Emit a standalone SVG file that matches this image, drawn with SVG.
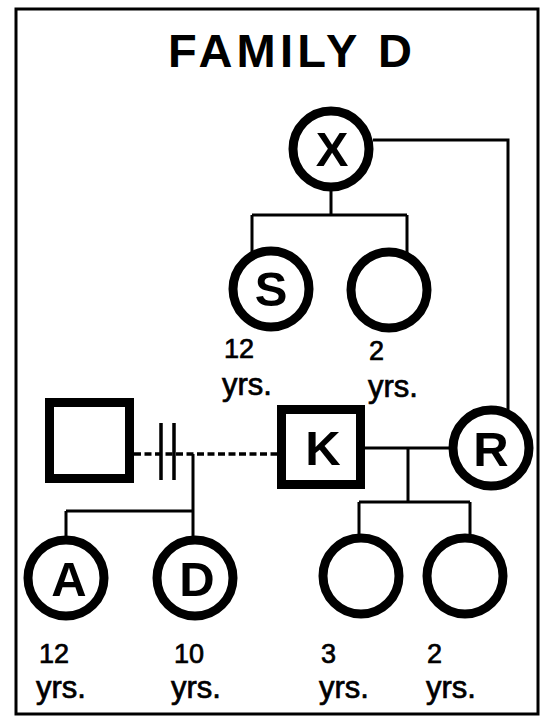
<svg xmlns="http://www.w3.org/2000/svg" width="541" height="716" viewBox="0 0 541 716">
  <style>
    .frame { fill: none; stroke: #000; stroke-width: 3; }
    .person { fill: #fff; stroke: #000; stroke-width: 9; }
    .male { fill: #fff; stroke: #000; stroke-width: 9; }
    .line { fill: none; stroke: #000; stroke-width: 3; }
    .dash { fill: none; stroke: #000; stroke-width: 3.5; stroke-dasharray: 7 3.5; }
    .bar { fill: none; stroke: #000; stroke-width: 3.5; }
    .title { font-family: "Liberation Sans", Arial, Helvetica, sans-serif; font-weight: bold; font-size: 47px; fill: #000; }
    .initial { font-family: "Liberation Sans", Arial, Helvetica, sans-serif; font-weight: bold; font-size: 49px; fill: #000; text-anchor: middle; }
    .age { font-family: "Liberation Sans", Arial, Helvetica, sans-serif; font-size: 27px; fill: #000; stroke: #000; stroke-width: 0.7; }
    .yrs { font-family: "Liberation Sans", Arial, Helvetica, sans-serif; font-size: 31px; fill: #000; stroke: #000; stroke-width: 0.7; }
  </style>

  <rect class="frame" x="16" y="9" width="522" height="705"/>
  <text class="title" x="168" y="67" textLength="244" lengthAdjust="spacing">FAMILY D</text>

  <g id="connectors">
    <path class="line" d="M373,140 H508 V411"/>
    <path class="line" d="M331,190 V215 M252,215 H407 M252,215 V254 M407,215 V253"/>
    <path class="dash" d="M134,454 H277"/>
    <path class="bar" d="M161,423 V480 M174,423 V480"/>
    <path class="line" d="M193,454 V537 M66,511 H193 M66,511 V538"/>
    <path class="line" d="M365,448 H451 M408,448 V502 M359,502 H470 M359,502 V535 M470,502 V535"/>
  </g>

  <g id="node-X">
    <circle class="person" cx="331" cy="149" r="38"/>
    <text class="initial" x="332" y="166">X</text>
  </g>
  <g id="node-S">
    <circle class="person" cx="271" cy="289" r="38"/>
    <text class="initial" x="271" y="306">S</text>
    <text class="age" x="224" y="358">12</text>
    <text class="yrs" x="222" y="395">yrs.</text>
  </g>
  <g id="node-sister2">
    <circle class="person" cx="389" cy="290" r="38"/>
    <text class="age" x="369" y="360">2</text>
    <text class="yrs" x="368" y="397">yrs.</text>
  </g>
  <g id="node-father">
    <rect class="male" x="49.5" y="402.5" width="80" height="76"/>
  </g>
  <g id="node-K">
    <rect class="male" x="281.5" y="409.5" width="79" height="75"/>
    <text class="initial" x="323" y="465">K</text>
  </g>
  <g id="node-R">
    <circle class="person" cx="491" cy="448" r="38"/>
    <text class="initial" x="491" y="466">R</text>
  </g>
  <g id="node-A">
    <circle class="person" cx="66" cy="578" r="38"/>
    <text class="initial" x="69" y="596">A</text>
    <text class="age" x="39" y="663">12</text>
    <text class="yrs" x="36" y="698">yrs.</text>
  </g>
  <g id="node-D">
    <circle class="person" cx="195" cy="578" r="38"/>
    <text class="initial" x="197" y="596">D</text>
    <text class="age" x="174" y="663">10</text>
    <text class="yrs" x="171" y="698">yrs.</text>
  </g>
  <g id="node-child3">
    <circle class="person" cx="361" cy="576" r="38"/>
    <text class="age" x="321" y="663">3</text>
    <text class="yrs" x="319" y="698">yrs.</text>
  </g>
  <g id="node-child4">
    <circle class="person" cx="465" cy="576" r="38"/>
    <text class="age" x="427" y="663">2</text>
    <text class="yrs" x="426" y="698">yrs.</text>
  </g>
</svg>
